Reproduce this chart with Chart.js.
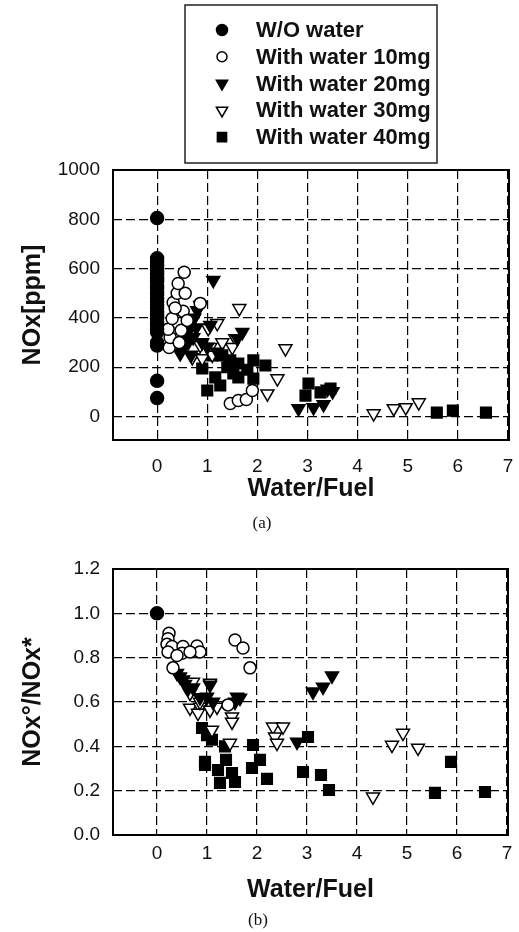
<!DOCTYPE html>
<html>
<head>
<meta charset="utf-8">
<script src="https://cdn.jsdelivr.net/npm/chart.js@4/dist/chart.umd.min.js"></script>
<style>
  html, body { margin: 0; padding: 0; background: #fff; }
  body { width: 519px; height: 932px; position: relative; overflow: hidden; }
  #chartA { position: absolute; left: 0; top: 0; }
  #chartB { position: absolute; left: 0; top: 540px; }
  .cap { position: absolute; font-family: "Liberation Serif", "DejaVu Serif", serif; font-size: 17px; color: #111; transform: translate(-50%, -50%); }
</style>
</head>
<body>
<canvas id="chartA" width="519" height="540"></canvas>
<canvas id="chartB" width="519" height="392"></canvas>
<div class="cap" style="left:262px; top:523px;">(a)</div>
<div class="cap" style="left:258px; top:920px;">(b)</div>
<script>
var seriesNames = ["W/O water", "With water 10mg", "With water 20mg", "With water 30mg", "With water 40mg"];
var xTicks = [0, 1, 2, 3, 4, 5, 6, 7];
var noxTicks = [0, 200, 400, 600, 800, 1000];
var ratioTicks = [0, 0.2, 0.4, 0.6, 0.8, 1.0, 1.2];

// (a) NOx [ppm] vs water/fuel
var a_wo_x = [0, 0, 0, 0, 0, 0, 0, 0, 0, 0, 0, 0, 0, 0, 0, 0, 0, 0, 0, 0, 0, 0, 0, 0, 0, 0, 0, 0];
var a_wo_y = [805, 642, 630, 615, 601, 590, 577, 560, 548, 533, 520, 505, 494, 480, 466, 452, 440, 425, 410, 398, 383, 370, 355, 342, 300, 288, 145, 75];
var a_w10_x = [0.24, 0.26, 0.22, 0.48, 0.30, 0.52, 0.32, 0.40, 0.56, 0.42, 0.54, 0.86, 0.36, 0.60, 0.44, 1.46, 1.62, 1.78, 1.90];
var a_w10_y = [280, 321, 354, 350, 398, 427, 463, 500, 500, 540, 585, 459, 440, 390, 300, 53, 65, 69, 106];
var a_w20_x = [1.12, 0.86, 0.80, 0.74, 1.06, 1.70, 1.60, 0.52, 0.46, 0.72, 0.90, 1.00, 0.62, 1.20, 0.68, 0.56, 0.64, 0.78, 2.82, 3.12, 3.32, 3.50, 3.40];
var a_w20_y = [553, 451, 430, 400, 370, 342, 317, 280, 256, 321, 300, 282, 300, 262, 250, 330, 350, 360, 33, 37, 49, 102, 112];
var a_w30_x = [1.64, 1.20, 1.02, 1.56, 1.50, 1.06, 0.86, 0.70, 0.90, 1.10, 1.30, 2.56, 2.40, 2.20, 4.32, 4.72, 4.96, 5.22];
var a_w30_y = [439, 378, 358, 317, 281, 281, 289, 240, 236, 250, 300, 276, 154, 93, 12, 33, 37, 57];
var a_w40_x = [1.10, 1.30, 1.46, 1.62, 1.92, 2.16, 0.90, 1.16, 1.62, 1.00, 1.26, 1.52, 1.92, 1.40, 1.80, 3.02, 2.96, 3.26, 3.46, 5.58, 5.90, 6.56];
var a_w40_y = [248, 248, 228, 215, 228, 207, 195, 159, 159, 106, 126, 175, 154, 200, 190, 134, 85, 98, 114, 16, 24, 16];

// (b) NOx0/NOx* vs water/fuel
var b_wo_x = [0];
var b_wo_y = [1.0];
var b_w10_x = [0.24, 0.22, 0.20, 0.30, 0.52, 0.50, 0.80, 0.86, 0.22, 0.40, 0.66, 0.32, 1.56, 1.72, 1.86, 1.42];
var b_w10_y = [0.91, 0.885, 0.86, 0.85, 0.85, 0.82, 0.853, 0.826, 0.826, 0.81, 0.826, 0.754, 0.88, 0.844, 0.754, 0.587];
var b_w20_x = [0.40, 0.46, 0.52, 0.56, 0.62, 0.72, 0.86, 1.06, 1.00, 1.12, 1.60, 1.66, 1.56, 2.80, 3.12, 3.32, 3.50];
var b_w20_y = [0.73, 0.714, 0.70, 0.68, 0.66, 0.664, 0.62, 0.677, 0.623, 0.60, 0.623, 0.618, 0.60, 0.42, 0.646, 0.668, 0.718];
var b_w30_x = [0.66, 0.72, 1.06, 0.66, 0.86, 0.82, 0.86, 1.06, 1.20, 1.50, 1.50, 1.10, 1.46, 2.32, 2.52, 2.36, 2.40, 4.32, 4.70, 4.92, 5.22];
var b_w30_y = [0.64, 0.69, 0.686, 0.573, 0.578, 0.55, 0.60, 0.564, 0.578, 0.533, 0.51, 0.474, 0.415, 0.488, 0.488, 0.443, 0.415, 0.172, 0.406, 0.46, 0.393];
var b_w40_x = [0.90, 1.00, 1.10, 1.36, 1.92, 0.96, 0.96, 1.22, 1.38, 1.50, 1.26, 1.56, 1.90, 2.06, 2.20, 2.92, 3.02, 3.28, 3.44, 5.56, 5.88, 6.56];
var b_w40_y = [0.483, 0.45, 0.43, 0.40, 0.406, 0.33, 0.316, 0.293, 0.339, 0.28, 0.235, 0.239, 0.302, 0.339, 0.253, 0.284, 0.442, 0.271, 0.203, 0.19, 0.33, 0.194];

var markers = [
  { style: "circle", rot: 0, fill: "#000", r: 6.5 },
  { style: "circle", rot: 0, fill: "#fff", r: 6 },
  { style: "triangle", rot: 180, fill: "#000", r: 7.5 },
  { style: "triangle", rot: 180, fill: "#fff", r: 7.5 },
  { style: "rect", rot: 0, fill: "#000", r: 7.5 }
];

function pts(xs, ys) {
  return xs.map(function (x, i) { return { x: x, y: ys[i] }; });
}

function makeDatasets(list) {
  return list.map(function (pair, i) {
    var m = markers[i];
    return {
      label: seriesNames[i],
      data: pts(pair[0], pair[1]),
      pointStyle: m.style,
      rotation: m.rot,
      pointRadius: m.r,
      pointBackgroundColor: m.fill,
      pointBorderColor: "#000",
      pointBorderWidth: 1.5,
      showLine: false
    };
  });
}

var frame = {
  id: "frame",
  beforeDatasetsDraw: function (chart) {
    var a = chart.chartArea, ctx = chart.ctx;
    ctx.save();
    ctx.strokeStyle = "#000";
    ctx.lineWidth = 2;
    ctx.strokeRect(a.left, a.top, a.right - a.left, a.bottom - a.top);
    ctx.restore();
  }
};

var legendBox = {
  id: "legendBox",
  afterDraw: function (chart) {
    var ctx = chart.ctx;
    ctx.save();
    ctx.strokeStyle = "#222";
    ctx.lineWidth = 1.5;
    ctx.strokeRect(185, 5, 252, 158);
    ctx.font = "bold 22px 'Liberation Sans', Arial, sans-serif";
    ctx.textBaseline = "middle";
    ctx.textAlign = "left";
    seriesNames.forEach(function (name, i) {
      var m = markers[i];
      var y = 30 + i * 26.8;
      ctx.fillStyle = m.fill;
      ctx.strokeStyle = "#000";
      ctx.lineWidth = 1.5;
      Chart.helpers.drawPoint(ctx, { pointStyle: m.style, rotation: m.rot, radius: m.r - 1, borderWidth: 1.5 }, 222, y);
      ctx.fillStyle = "#111";
      ctx.fillText(name, 256, y + 1);
    });
    ctx.restore();
  }
};

function makeOptions(cfg) {
  var tickFont = { family: "'Liberation Sans', Arial, sans-serif", size: 19 };
  var titleFont = { family: "'Liberation Sans', Arial, sans-serif", size: 25, weight: "bold" };
  return {
    responsive: false,
    devicePixelRatio: 1,
    animation: false,
    layout: { padding: cfg.padding },
    plugins: { legend: { display: false }, tooltip: { enabled: false } },
    scales: {
      x: {
        type: "linear",
        min: -0.88,
        max: 7.02,
        afterBuildTicks: function (s) { s.ticks = xTicks.map(function (v) { return { value: v }; }); },
        afterFit: function (s) { s.height = cfg.xHeight; s.paddingLeft = 0; s.paddingRight = 0; },
        ticks: { font: tickFont, color: "#111", padding: cfg.xTickPad, maxRotation: 0 },
        grid: { color: "#000", lineWidth: 1.2, drawTicks: false },
        border: { display: false, dash: [9, 4] },
        title: { display: true, text: "Water/Fuel", font: titleFont, color: "#111", padding: 0 }
      },
      y: {
        type: "linear",
        min: cfg.yMin,
        max: cfg.yMax,
        afterBuildTicks: function (s) { s.ticks = cfg.yTicks.map(function (v) { return { value: v }; }); },
        afterFit: function (s) { s.width = 113; s.paddingTop = 0; s.paddingBottom = 0; },
        ticks: { font: tickFont, color: "#111", padding: 13, callback: cfg.yFmt },
        grid: { color: "#000", lineWidth: 1.2, drawTicks: false },
        border: { display: false, dash: [9, 4] },
        title: { display: true, text: cfg.yTitle, font: titleFont, color: "#111", padding: { top: 18, bottom: 0 } }
      }
    }
  };
}

new Chart(document.getElementById("chartA"), {
  type: "scatter",
  data: {
    datasets: makeDatasets([[a_wo_x, a_wo_y], [a_w10_x, a_w10_y], [a_w20_x, a_w20_y], [a_w30_x, a_w30_y], [a_w40_x, a_w40_y]])
  },
  options: makeOptions({
    padding: { top: 170, left: 0, right: 10, bottom: 36 },
    xHeight: 64,
    xTickPad: 15,
    yMin: -95,
    yMax: 1000,
    yTicks: noxTicks,
    yTitle: "NOx[ppm]",
    yFmt: function (v) { return String(v); }
  }),
  plugins: [frame, legendBox]
});

new Chart(document.getElementById("chartB"), {
  type: "scatter",
  data: {
    datasets: makeDatasets([[b_wo_x, b_wo_y], [b_w10_x, b_w10_y], [b_w20_x, b_w20_y], [b_w30_x, b_w30_y], [b_w40_x, b_w40_y]])
  },
  options: makeOptions({
    padding: { top: 29, left: 0, right: 11, bottom: 27 },
    xHeight: 70,
    xTickPad: 7,
    yMin: 0,
    yMax: 1.2,
    yTicks: ratioTicks,
    yTitle: "NOx\u00B0/NOx*",
    yFmt: function (v) { return v.toFixed(1); }
  }),
  plugins: [frame]
});
</script>
</body>
</html>
